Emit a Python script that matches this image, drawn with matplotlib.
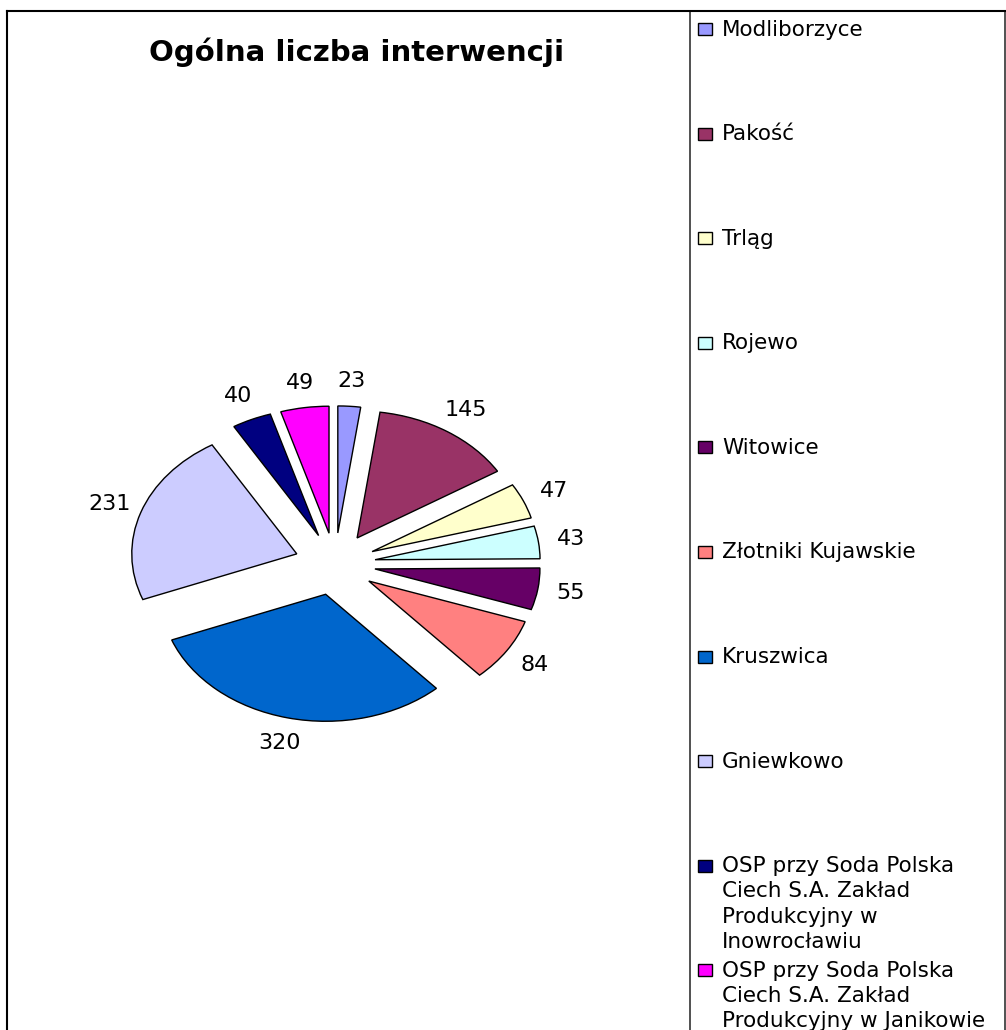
import matplotlib
matplotlib.use("Agg")
from matplotlib import pyplot as plt
from matplotlib.patches import Rectangle
from matplotlib.lines import Line2D

names = ["Modliborzyce", "Pakość", "Trląg", "Rojewo", "Witowice",
         "Złotniki Kujawskie", "Kruszwica", "Gniewkowo",
         "OSP przy Soda Polska\nCiech S.A. Zakład\nProdukcyjny w\nInowrocławiu",
         "OSP przy Soda Polska\nCiech S.A. Zakład\nProdukcyjny w Janikowie"]
values = [23, 145, 47, 43, 55, 84, 320, 231, 40, 49]
colors = ["#9999FF", "#993366", "#FFFFCC", "#CCFFFF", "#660066",
          "#FF8080", "#0066CC", "#CCCCFF", "#000080", "#FF00FF"]
title = "Ogólna liczba interwencji"

W, H = 1006, 1030
fig = plt.figure(figsize=(W / 100, H / 100), dpi=100)
plt.rcParams["font.family"] = ["DejaVu Sans"]


def fx(x):
    return x / W


def fy(y):
    return 1 - y / H


# pie drawn squashed (ellipse): 165 px across, 127 px up/down per unit radius
cx, cy, rx, ry = 335, 564, 165, 127
ax = fig.add_axes([fx(cx - 2 * rx), fy(cy + 2 * ry), 4 * rx / W, 4 * ry / H])
wedges, texts = ax.pie(values, colors=colors, startangle=90, counterclock=False,
                       explode=[0.245] * len(values),
                       labels=[str(v) for v in values], labeldistance=1.2,
                       wedgeprops=dict(edgecolor="black", linewidth=1),
                       textprops=dict(fontsize=16, color="black"))
for t in texts:
    t.set_ha("center")
    t.set_va("center")
ax.set_aspect("auto")
ax.set_xlim(-2, 2)
ax.set_ylim(-2, 2)
ax.axis("off")

fig.text(fx(357), fy(52), title, ha="center", va="center",
         fontsize=21, fontweight="bold")

# frame lines
def hline(y, x0, x1, **kw):
    fig.add_artist(Line2D([fx(x0), fx(x1)], [fy(y), fy(y)], color="black", **kw))


def vline(x, y0, y1, **kw):
    fig.add_artist(Line2D([fx(x), fx(x)], [fy(y0), fy(y1)], color="black", **kw))


hline(11, 7, 1005, lw=1.5)
vline(7, 11, 1030, lw=1.5)
vline(1005, 11, 1030, lw=1.2, alpha=0.8)
vline(690, 11, 1030, lw=1.2, alpha=0.8)

# legend, one slot of equal height per entry
step = 104.6
for i, (name, col) in enumerate(zip(names, colors)):
    base = 36 + i * step
    fig.add_artist(Rectangle((fx(698), fy(base - 1)), 14 / W, 12 / H,
                             facecolor=col, edgecolor="black", lw=1,
                             transform=fig.transFigure))
    fig.text(fx(722), fy(base - 16.5), name, ha="left", va="top",
             fontsize=15.5, linespacing=1.32)

fig.savefig("out.png", dpi=100)
